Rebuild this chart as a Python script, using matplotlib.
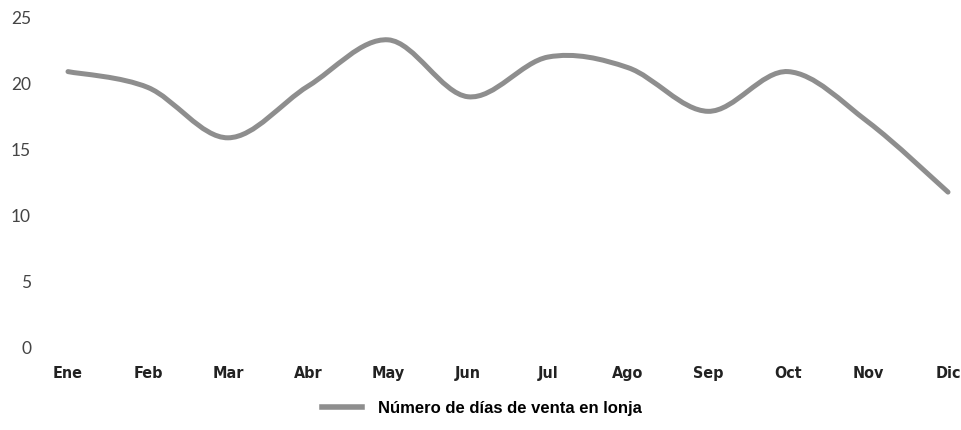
import matplotlib
matplotlib.use("Agg")
import matplotlib.pyplot as plt
import numpy as np
from matplotlib.path import Path
from matplotlib.patches import PathPatch
from matplotlib.lines import Line2D

months = ["Ene", "Feb", "Mar", "Abr", "May", "Jun", "Jul", "Ago", "Sep", "Oct", "Nov", "Dic"]
dias_venta = [20.8, 19.6, 15.8, 19.7, 23.2, 18.9, 21.9, 21.1, 17.8, 20.8, 17.0, 11.7]
y_ticks = [0, 5, 10, 15, 20, 25]
series_name = "Número de días de venta en lonja"
line_color = "#8e8e8e"


def smooth_path(xs, ys):
    # catmull-rom through the points, turned into cubic bezier segments
    pts = np.column_stack([xs, ys])
    verts = [pts[0]]
    codes = [Path.MOVETO]
    n = len(pts)
    for i in range(n - 1):
        p0 = pts[max(i - 1, 0)]
        p1 = pts[i]
        p2 = pts[i + 1]
        p3 = pts[min(i + 2, n - 1)]
        c1 = p1 + (p2 - p0) / 6.0
        c2 = p2 - (p3 - p1) / 6.0
        verts += [c1, c2, p2]
        codes += [Path.CURVE4] * 3
    return Path(verts, codes)


fig = plt.figure(figsize=(9.62, 4.31), dpi=100)
ax = fig.add_axes([40 / 962, 83 / 431, 922 / 962, 331 / 431])

x = np.arange(len(months))
ax.add_patch(PathPatch(smooth_path(x, dias_venta), fill=False,
                       edgecolor=line_color, linewidth=3.6, capstyle="round"))

ax.set_xlim((40 - 68) / 80, (962 - 68) / 80)
ax.set_ylim(0, 25)
for s in ax.spines.values():
    s.set_visible(False)

ax.set_yticks(y_ticks)
ax.set_yticklabels([str(v) for v in y_ticks], fontfamily="Lato", fontweight="normal",
                   fontsize=12.5, color="#444444")
ax.tick_params(axis="y", length=0, pad=9 * 72 / 100)

ax.set_xticks(x)
ax.set_xticklabels(months, fontfamily="DejaVu Sans", fontstretch="condensed",
                   fontweight="bold", fontsize=11.5, color="#222222")
ax.tick_params(axis="x", length=0, pad=13)

handle = Line2D([0], [0], color=line_color, linewidth=4.0)
fig.legend([handle], [series_name], loc="center", bbox_to_anchor=(482 / 962, 1 - 409 / 431),
           frameon=False, handlelength=2.4, handletextpad=0.95,
           prop={"family": "Liberation Sans", "weight": "bold", "size": 12})

fig.savefig("out.png", dpi=100)
